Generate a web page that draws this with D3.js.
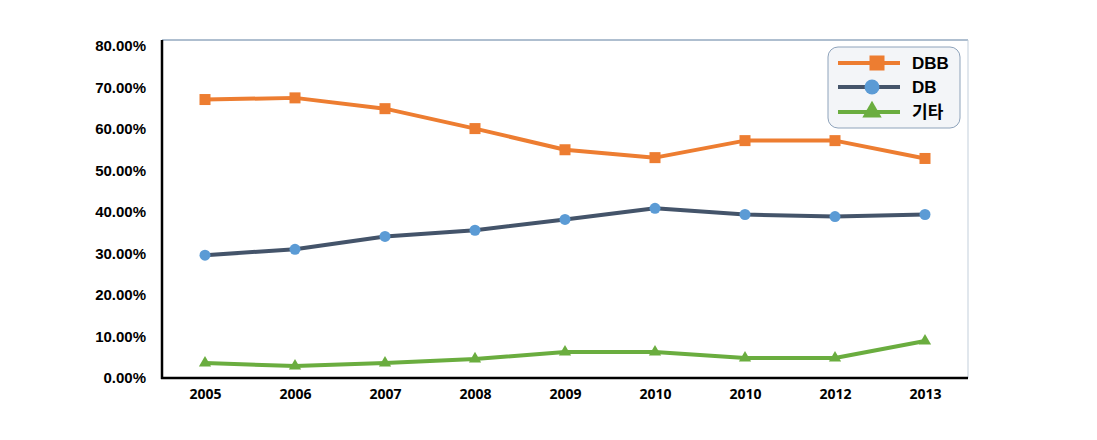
<!DOCTYPE html>
<html><head><meta charset="utf-8">
<script src="https://cdn.jsdelivr.net/npm/d3@7"></script>
<style>body{margin:0;background:#fff;}svg{display:block;}</style>
</head><body>
<svg id="chart" width="1097" height="440"></svg>
<script>
const categories = ["2005","2006","2007","2008","2009","2010","2010","2012","2013"];
const dbb   = [67.1, 67.5, 64.9, 60.1, 55.0, 53.1, 57.2, 57.2, 52.9];
const db    = [29.6, 31.0, 34.1, 35.6, 38.2, 40.9, 39.4, 38.9, 39.4];
const other = [3.6, 2.9, 3.6, 4.6, 6.25, 6.25, 4.8, 4.8, 8.9];
const yTicks = [0,10,20,30,40,50,60,70,80];
const seriesNames = ["DBB","DB","기타"];

const svg = d3.select("#chart");
const L = 162, R = 968, T = 40, B = 378;
const x = d3.scalePoint().domain(d3.range(categories.length)).range([160, 970]).padding(0.5);
const y = d3.scaleLinear().domain([0, 80]).range([378, 46]);

// frame
svg.append("line").attr("x1", L).attr("x2", R).attr("y1", T).attr("y2", T).attr("stroke", "#5f7fa0").attr("stroke-width", 1);
svg.append("line").attr("x1", R).attr("x2", R).attr("y1", T).attr("y2", B).attr("stroke", "#c3cfdb").attr("stroke-width", 1);

// y axis
const yAxis = svg.append("g").attr("transform", `translate(${L},0)`)
  .call(d3.axisLeft(y).tickValues(yTicks).tickSize(0).tickPadding(16).tickFormat(d => d.toFixed(2) + "%"));
yAxis.select(".domain").remove();
yAxis.selectAll("text").attr("font-family", "Liberation Sans, Arial, sans-serif").attr("font-weight", "bold").attr("font-size", "15px").attr("fill", "#000");
svg.append("line").attr("x1", L).attr("x2", L).attr("y1", T).attr("y2", B + 1).attr("stroke", "#000").attr("stroke-width", 2.5);

// x axis
const xAxis = svg.append("g").attr("transform", `translate(0,${B})`)
  .call(d3.axisBottom(x).tickSize(0).tickPadding(11).tickFormat(i => categories[i]));
xAxis.select(".domain").remove();
xAxis.selectAll("text").attr("font-family", "'Open Sans', Arial, sans-serif").attr("font-weight", "bold").attr("font-size", "14px").attr("fill", "#000");
svg.append("line").attr("x1", L - 1).attr("x2", R).attr("y1", B).attr("y2", B).attr("stroke", "#000").attr("stroke-width", 2.5);

const series = [
  {name: seriesNames[0], values: dbb, line: "#ED7D31", marker: "#ED7D31", shape: "square"},
  {name: seriesNames[1], values: db, line: "#44546A", marker: "#5B9BD5", shape: "circle"},
  {name: seriesNames[2], values: other, line: "#6AAD3F", marker: "#6AAD3F", shape: "triangle"}
];
const line = d3.line().x((d, i) => x(i)).y(d => y(d));

function marker(g, s, cx, cy, size) {
  if (s.shape === "square") {
    g.append("rect").attr("x", cx - size/2).attr("y", cy - size/2).attr("width", size).attr("height", size).attr("fill", s.marker);
  } else if (s.shape === "circle") {
    g.append("circle").attr("cx", cx).attr("cy", cy).attr("r", size/2).attr("fill", s.marker);
  } else {
    const sym = d3.symbol().type(d3.symbolTriangle).size(size * size * 0.45);
    g.append("path").attr("d", sym()).attr("transform", `translate(${cx},${cy})`).attr("fill", s.marker);
  }
}

series.forEach(s => {
  svg.append("path").datum(s.values).attr("d", line).attr("fill", "none")
    .attr("stroke", s.line).attr("stroke-width", 4).attr("stroke-linejoin", "round");
  const g = svg.append("g");
  s.values.forEach((v, i) => marker(g, s, x(i), y(v), s.shape === "triangle" ? 12 : 11));
});

// legend
const lg = svg.append("g");
lg.append("rect").attr("x", 828).attr("y", 47).attr("width", 132).attr("height", 81).attr("rx", 10)
  .attr("fill", "#f3f5f8").attr("stroke", "#8ea3bb").attr("stroke-width", 1);
const ly = [63, 87, 112];
series.forEach((s, i) => {
  lg.append("line").attr("x1", 838).attr("x2", 900).attr("y1", ly[i]).attr("y2", ly[i]).attr("stroke", s.line).attr("stroke-width", 4);
  marker(lg, s, i === 0 ? 877 : 872, ly[i], i === 2 ? 19 : 15);
  lg.append("text").attr("x", 912).attr("y", ly[i]).attr("dy", "0.36em").text(s.name)
    .attr("font-family", "Liberation Sans, 'Noto Sans CJK KR', Arial, sans-serif").attr("font-weight", "bold").attr("font-size", "17px").attr("fill", "#000");
});
</script>
</body></html>
